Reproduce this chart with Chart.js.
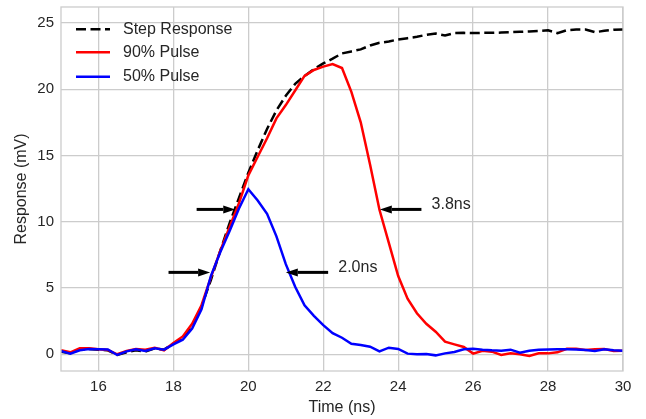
<!DOCTYPE html>
<html>
<head>
<meta charset="utf-8">
<script src="https://cdn.jsdelivr.net/npm/chart.js@4"></script>
<style>
  html, body { margin: 0; padding: 0; background: #fff; }
  #wrap { width: 646px; height: 419px; }
</style>
</head>
<body>
<div id="wrap"><canvas id="pulse"></canvas></div>
<script>
// time axis (ns)
const times = [15.0,15.25,15.5,15.75,16.0,16.25,16.5,16.75,17.0,17.25,17.5,17.75,
  18.0,18.25,18.5,18.75,19.0,19.25,19.5,19.75,20.0,20.25,20.5,20.75,21.0,21.25,21.5,21.75,
  22.0,22.25,22.5,22.75,23.0,23.25,23.5,23.75,24.0,24.25,24.5,24.75,25.0,25.25,25.5,25.75,
  26.0,26.25,26.5,26.75,27.0,27.25,27.5,27.75,28.0,28.25,28.5,28.75,29.0,29.25,29.5,29.75,30.0];

const stepResp = [0.2,0.08,0.35,0.4,0.35,0.3,-0.05,0.15,0.3,0.2,0.45,0.35,
  0.8,1.25,2.2,3.6,5.6,7.8,9.9,11.8,13.7,15.4,17.0,18.4,19.5,20.4,21.0,21.5,
  21.95,22.3,22.7,22.85,23.0,23.3,23.5,23.6,23.75,23.85,23.95,24.1,24.2,24.05,24.23,24.25,
  24.23,24.25,24.25,24.27,24.3,24.33,24.36,24.4,24.44,24.23,24.45,24.5,24.5,24.3,24.4,24.48,24.51];

const pulse90 = [0.3,0.15,0.45,0.45,0.38,0.33,0.0,0.25,0.4,0.35,0.5,0.3,
  0.85,1.35,2.3,3.7,5.8,7.8,9.6,11.4,13.5,14.9,16.3,17.8,18.8,19.9,21.0,21.45,
  21.7,21.9,21.6,19.8,17.5,14.3,10.9,8.4,5.9,4.2,3.1,2.3,1.7,0.95,0.75,0.55,
  0.05,0.27,0.2,-0.05,0.07,0.0,-0.13,0.07,0.07,0.15,0.42,0.42,0.33,0.38,0.4,0.25,0.27];

const pulse50 = [0.25,0.05,0.3,0.4,0.38,0.37,-0.05,0.22,0.38,0.25,0.45,0.35,
  0.75,1.1,1.95,3.4,5.9,7.7,9.3,11.0,12.45,11.6,10.6,8.9,6.8,5.1,3.7,2.9,
  2.2,1.6,1.25,0.8,0.7,0.57,0.22,0.5,0.4,0.05,0.0,0.02,-0.08,0.07,0.17,0.38,
  0.42,0.35,0.3,0.27,0.35,0.12,0.27,0.35,0.37,0.38,0.38,0.36,0.33,0.25,0.38,0.3,0.27];

const xTicks = [16,18,20,22,24,26,28,30];
const yTicks = [0,5,10,15,20,25];

// width markers: arrow from tail to tip at level y (data units)
const markers = [
  {y: 10.93, tail: 18.62, tip: 19.65, text: ''},
  {y: 10.93, tail: 24.62, tip: 23.51, text: '3.8ns', tx: 24.89, ty: 11.3},
  {y: 6.18, tail: 17.87, tip: 18.98, text: ''},
  {y: 6.18, tail: 22.13, tip: 21.0, text: '2.0ns', tx: 22.4, ty: 6.55}
];

const fontFam = '"Liberation Sans", Arial, sans-serif';
const textCol = '#262626';
const gridCol = '#cccccc';

function pts(ys) {
  return times.map((t, i) => ({x: t, y: ys[i]}));
}

const extras = {
  id: 'extras',
  afterDatasetsDraw(chart) {
    const ctx = chart.ctx;
    const xs = chart.scales.x, ys = chart.scales.y;
    const a = chart.chartArea;
    ctx.save();
    // frame
    ctx.strokeStyle = gridCol;
    ctx.lineWidth = 1.3;
    ctx.strokeRect(a.left, a.top, a.right - a.left, a.bottom - a.top);

    // arrows
    ctx.fillStyle = '#000';
    ctx.strokeStyle = '#000';
    markers.forEach(m => {
      const y = ys.getPixelForValue(m.y);
      const x0 = xs.getPixelForValue(m.tail);
      const x1 = xs.getPixelForValue(m.tip);
      const dir = Math.sign(x1 - x0);
      const hl = 12, hw = 4;
      ctx.lineWidth = 3;
      ctx.beginPath();
      ctx.moveTo(x0, y);
      ctx.lineTo(x1 - dir * hl, y);
      ctx.stroke();
      ctx.beginPath();
      ctx.moveTo(x1, y);
      ctx.lineTo(x1 - dir * hl, y - hw);
      ctx.lineTo(x1 - dir * hl, y + hw);
      ctx.closePath();
      ctx.fill();
      if (m.text) {
        ctx.fillStyle = textCol;
        ctx.font = '16px ' + fontFam;
        ctx.textAlign = 'left';
        ctx.textBaseline = 'middle';
        ctx.fillText(m.text, xs.getPixelForValue(m.tx), ys.getPixelForValue(m.ty));
        ctx.fillStyle = '#000';
      }
    });

    // legend
    const rows = [29.3, 52.3, 76.7];
    chart.data.datasets.forEach((ds, i) => {
      const y = rows[i];
      ctx.strokeStyle = ds.borderColor;
      ctx.lineWidth = ds.borderWidth;
      ctx.setLineDash(ds.borderDash || []);
      ctx.beginPath();
      ctx.moveTo(a.left + 15, y);
      ctx.lineTo(a.left + 49, y);
      ctx.stroke();
      ctx.setLineDash([]);
      ctx.fillStyle = textCol;
      ctx.font = '16px ' + fontFam;
      ctx.textAlign = 'left';
      ctx.textBaseline = 'middle';
      ctx.fillText(ds.label, a.left + 62, y);
    });
    ctx.restore();
  }
};

new Chart(document.getElementById('pulse').getContext('2d'), {
  type: 'line',
  data: {
    datasets: [
      {label: 'Step Response', data: pts(stepResp), borderColor: '#000000', borderWidth: 2.5,
       borderDash: [10, 4.5], pointRadius: 0, tension: 0, order: 3},
      {label: '90% Pulse', data: pts(pulse90), borderColor: '#ff0000', borderWidth: 2.5,
       pointRadius: 0, tension: 0, order: 2},
      {label: '50% Pulse', data: pts(pulse50), borderColor: '#0000ff', borderWidth: 2.5,
       pointRadius: 0, tension: 0, order: 1}
    ]
  },
  options: {
    responsive: true,
    maintainAspectRatio: false,
    animation: false,
    layout: {padding: {left: 0, right: 23, top: 7, bottom: 0}},
    plugins: {legend: {display: false}, tooltip: {enabled: false}},
    scales: {
      x: {
        type: 'linear', min: 15, max: 30,
        afterFit: s => { s.height = 48; s.paddingLeft = 0; s.paddingRight = 0; },
        afterBuildTicks: s => { s.ticks = xTicks.map(v => ({value: v})); },
        grid: {color: gridCol, lineWidth: 1.3, drawTicks: false},
        border: {display: false},
        ticks: {color: textCol, font: {family: fontFam, size: 15}, padding: 7},
        title: {display: true, text: 'Time (ns)', color: textCol,
                font: {family: fontFam, size: 16}, padding: {top: 0, bottom: 2}}
      },
      y: {
        min: -1.26, max: 26.2,
        afterFit: s => { s.width = 61; s.paddingTop = 0; s.paddingBottom = 0; },
        afterBuildTicks: s => { s.ticks = yTicks.map(v => ({value: v})); },
        grid: {color: gridCol, lineWidth: 1.3, drawTicks: false},
        border: {display: false},
        ticks: {color: textCol, font: {family: fontFam, size: 15}, padding: 7},
        title: {display: true, text: 'Response (mV)', color: textCol,
                font: {family: fontFam, size: 16}, padding: {top: 12, bottom: 0}}
      }
    }
  },
  plugins: [extras]
});
</script>
</body>
</html>
